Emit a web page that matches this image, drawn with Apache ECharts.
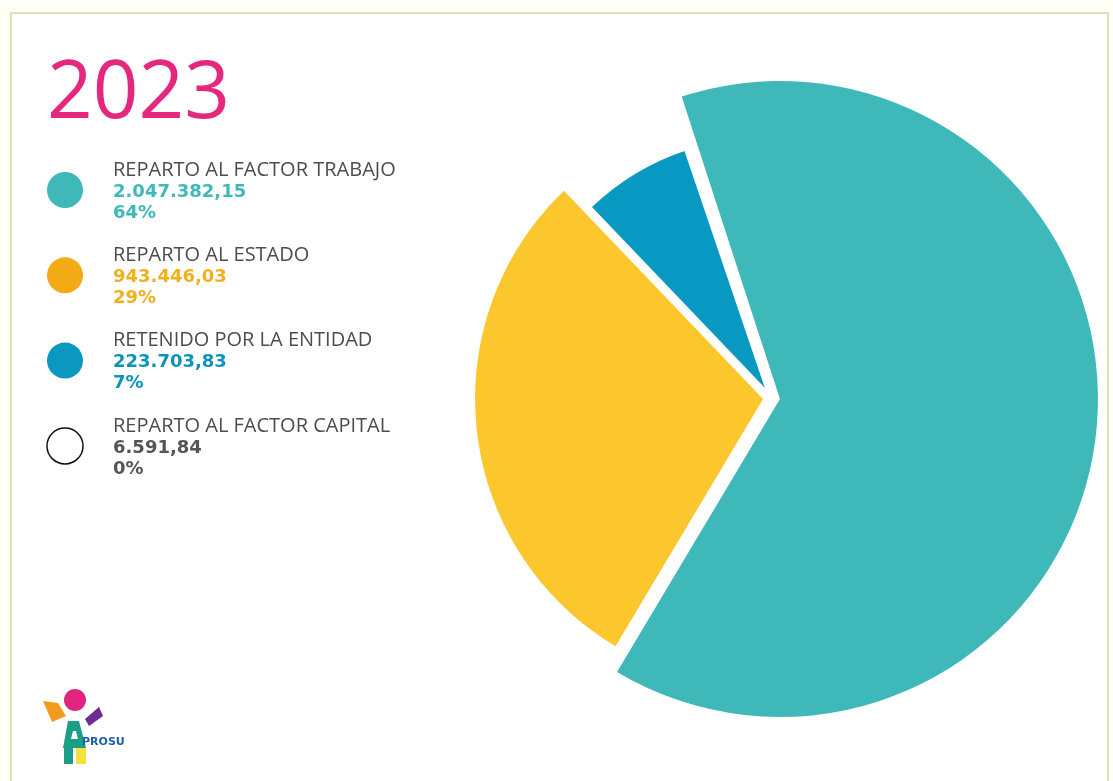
<!DOCTYPE html>
<html>
<head>
<meta charset="utf-8">
<script src="https://cdn.jsdelivr.net/npm/echarts@6/dist/echarts.min.js"></script>
<style>
html,body{margin:0;padding:0;background:#fffff5;}
#main{width:1113px;height:781px;}
</style>
</head>
<body>
<div id="main"></div>
<script>
// datos del reparto 2023
var year = '2023';
var names = ['REPARTO AL FACTOR TRABAJO', 'REPARTO AL ESTADO', 'RETENIDO POR LA ENTIDAD', 'REPARTO AL FACTOR CAPITAL'];
var values = [2047382.15, 943446.03, 223703.83, 6591.84];

// estilos
var pieColors = ['#3fb8b9', '#fcc62d', '#0799c2', '#ffffff'];
var dotColors = ['#3fb8b9', '#f2ab14', '#0a97c0', '#ffffff'];
var textColors = ['#3fb8b9', '#f1b01c', '#0b93bd', '#555555'];
var radii = [318, 288, 250, 0];
var offsets = [9, 8, 12, 0];
var center = [771, 398];

var total = values.reduce(function(a, b) { return a + b; }, 0);

var fmt = function(v) {
	var p = v.toFixed(2).split('.');
	return p[0].replace(/\B(?=(\d{3})+(?!\d))/g, '.') + ',' + p[1];
};

// una serie por porcion para tener radios distintos
var series = [];
for (var i = 0; i < 3; i++) {
	series.push({
		type: 'pie',
		center: center,
		radius: [0, radii[i]],
		startAngle: 108,
		clockwise: true,
		selectedMode: 'multiple',
		selectedOffset: offsets[i],
		silent: true,
		animation: false,
		z: 2 + i,
		label: { show: false },
		labelLine: { show: false },
		emphasis: { disabled: true },
		select: { itemStyle: { borderWidth: 0 } },
		data: values.map(function(v, j) {
			return {
				value: v,
				name: names[j],
				selected: j === i,
				itemStyle: { color: j === i ? pieColors[j] : 'rgba(0,0,0,0)', borderWidth: 0 }
			};
		})
	});
}

// leyenda a mano
var graphic = [{
	type: 'rect',
	z: -10,
	silent: true,
	shape: { x: 11, y: 13, width: 1097, height: 780 },
	style: { fill: '#ffffff', stroke: '#dce4b6', lineWidth: 2 }
}];
var blockTop = 170;
var step = 85.3;
names.forEach(function(n, i) {
	var y = blockTop + i * step;
	graphic.push({
		type: 'circle',
		shape: { cx: 65, cy: y + 20, r: 18 },
		style: { fill: dotColors[i], stroke: i === 3 ? '#111111' : null, lineWidth: 1.5 }
	});
	graphic.push({
		type: 'text', x: 113, y: y,
		style: { text: n, fill: '#4d4d4d', font: '20px "Open Sans"', verticalAlign: 'middle' }
	});
	graphic.push({
		type: 'text', x: 113, y: y + 22,
		style: { text: fmt(values[i]), fill: textColors[i], font: 'bold 18px "DejaVu Sans"', verticalAlign: 'middle' }
	});
	graphic.push({
		type: 'text', x: 113, y: y + 43,
		style: { text: Math.round(values[i] / total * 100) + '%', fill: textColors[i], font: 'bold 18px "DejaVu Sans"', verticalAlign: 'middle' }
	});
});

// logo APROSU
graphic.push(
	{ type: 'polygon', shape: { points: [[43, 701], [58, 703], [66, 716], [52, 722]] }, style: { fill: '#f39a1f' } },
	{ type: 'polygon', shape: { points: [[85, 719], [99, 707], [103, 716], [89, 726]] }, style: { fill: '#6b2d8f' } },
	{ type: 'circle', shape: { cx: 75, cy: 700, r: 11 }, style: { fill: '#e2247f' } },
	{ type: 'polygon', shape: { points: [[68, 721], [79, 721], [86, 748], [63, 748]] }, style: { fill: '#1a9e86' } },
	{ type: 'polygon', shape: { points: [[73, 731], [76, 731], [78, 739], [71, 739]] }, style: { fill: '#ffffff' } },
	{ type: 'rect', shape: { x: 64, y: 748, width: 9, height: 16 }, style: { fill: '#1a9e86' } },
	{ type: 'rect', shape: { x: 76, y: 748, width: 10, height: 16 }, style: { fill: '#f3e13c' } },
	{ type: 'text', x: 82, y: 742, style: { text: 'PROSU', fill: '#1f5ea8', font: 'bold 11px "DejaVu Sans"', verticalAlign: 'middle' } }
);

var myChart = echarts.init(document.getElementById('main'));
var option = {
	backgroundColor: '#fffff5',
	animation: false,
	title: {
		text: year,
		left: 42,
		top: 50,
		textStyle: { color: '#e5287e', fontSize: 80, fontWeight: 'normal', fontFamily: 'Open Sans' }
	},
	graphic: graphic,
	series: series
};
myChart.setOption(option);
</script>
</body>
</html>
